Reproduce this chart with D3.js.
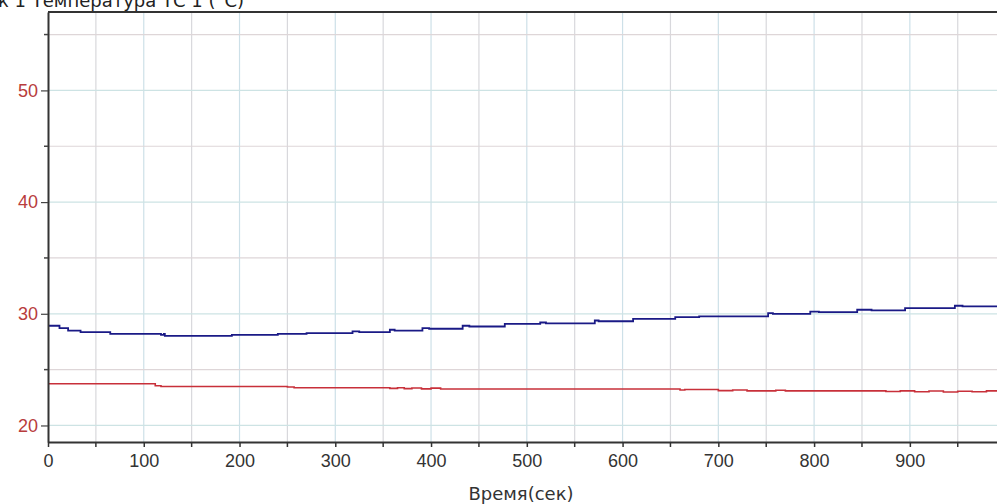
<!DOCTYPE html>
<html>
<head>
<meta charset="utf-8">
<script src="https://cdn.jsdelivr.net/npm/d3@7"></script>
<style>
  body { margin: 0; background: #fff; }
  svg { display: block; font-family: "DejaVu Sans", Verdana, sans-serif; }
</style>
</head>
<body>
<div id="chart"></div>
<script>
// chart size and margins
var W = 997, H = 504;
var margin = {top: 12, right: 0, bottom: 62, left: 48},
    width = W - margin.left - margin.right,
    height = H - margin.top - margin.bottom;

// blue channel: time (s) and temperature (step points)
var blueTime = [0, 12, 21, 34, 65, 118, 121, 122, 192, 240, 270, 318, 325, 357, 362, 391, 398, 433, 440, 477, 514, 520, 571, 575, 611, 655, 680, 690, 752, 757, 796, 805, 845, 860, 895, 947, 955, 991];
var blueTemp = [28.93, 28.72, 28.5, 28.36, 28.2, 28.12, 28.2, 28.03, 28.12, 28.2, 28.27, 28.42, 28.35, 28.57, 28.5, 28.72, 28.66, 28.93, 28.86, 29.1, 29.22, 29.15, 29.4, 29.33, 29.55, 29.7, 29.76, 29.76, 30.06, 30.0, 30.2, 30.14, 30.36, 30.3, 30.51, 30.72, 30.66, 30.72];

// red channel
var redTime = [0, 112, 118, 250, 257, 357, 365, 372, 380, 390, 400, 410, 417, 660, 665, 700, 715, 730, 760, 770, 875, 890, 905, 920, 935, 950, 965, 980, 991];
var redTemp = [23.73, 23.55, 23.49, 23.44, 23.38, 23.32, 23.38, 23.3, 23.36, 23.28, 23.34, 23.27, 23.26, 23.18, 23.22, 23.12, 23.17, 23.1, 23.15, 23.1, 23.04, 23.1, 23.02, 23.08, 23.0, 23.07, 23.02, 23.1, 23.1];

var xMajor = [0, 100, 200, 300, 400, 500, 600, 700, 800, 900];
var yMajor = [20, 30, 40, 50];

var svg = d3.select("#chart").append("svg")
    .attr("width", W)
    .attr("height", H);

// title, cut off at the very top like in the original window
svg.append("text")
    .attr("x", -2).attr("y", 7)
    .style("font-size", "18px")
    .style("fill", "#222")
    .text("к 1 Температура ТС 1 (°C)");

var g = svg.append("g")
    .attr("transform", "translate(" + margin.left + "," + margin.top + ")");

var x = d3.scaleLinear().domain([0, 991]).range([0, width]);
var y = d3.scaleLinear().domain([18.52, 57.02]).range([height, 0]);

// grid every 50 s / 5 degrees
var xGrid = d3.range(50, 991, 50);
var yGrid = d3.range(20, 57, 5);

g.selectAll(".vgrid").data(xGrid).enter().append("line")
    .attr("x1", d => x(d)).attr("x2", d => x(d))
    .attr("y1", 0).attr("y2", height)
    .attr("stroke", d => d % 100 == 0 ? "#cde0e8" : "#d8d8dc")
    .attr("stroke-width", 1.2);

g.selectAll(".hgrid").data(yGrid).enter().append("line")
    .attr("x1", 0).attr("x2", width)
    .attr("y1", d => y(d)).attr("y2", d => y(d))
    .attr("stroke", d => d % 10 == 0 ? "#cde3e4" : "#ded6d8")
    .attr("stroke-width", 1.2);

// data lines
var lineB = d3.line()
    .x((d, i) => x(blueTime[i]))
    .y(d => y(d))
    .curve(d3.curveStepAfter);

g.append("path")
    .attr("d", lineB(blueTemp))
    .attr("fill", "none")
    .attr("stroke", "#1a1a86")
    .attr("stroke-width", 1.8);

var lineR = d3.line()
    .x((d, i) => x(redTime[i]))
    .y(d => y(d))
    .curve(d3.curveStepAfter);

g.append("path")
    .attr("d", lineR(redTemp))
    .attr("fill", "none")
    .attr("stroke", "#c8303a")
    .attr("stroke-width", 1.6);

// x axis
var xAxis = g.append("g")
    .attr("transform", "translate(0," + height + ")")
    .call(d3.axisBottom(x).tickValues(xMajor).tickSize(5).tickPadding(7).tickSizeOuter(0));
xAxis.select(".domain").attr("stroke", "#333").attr("stroke-width", 2);
xAxis.selectAll(".tick line").attr("stroke", "#333").attr("stroke-width", 1.5);
xAxis.selectAll(".tick text").style("font-size", "18px").style("fill", "#333");
// minor x ticks
g.selectAll(".xminor").data(d3.range(50, 991, 100)).enter().append("line")
    .attr("x1", d => x(d)).attr("x2", d => x(d))
    .attr("y1", height).attr("y2", height + 5)
    .attr("stroke", "#333").attr("stroke-width", 1.5);

// y axis
var yAxis = g.append("g")
    .call(d3.axisLeft(y).tickValues(yMajor).tickSize(7).tickPadding(3).tickSizeOuter(0));
yAxis.select(".domain").attr("stroke", "#333").attr("stroke-width", 2);
yAxis.selectAll(".tick line").attr("stroke", "#444").attr("stroke-width", 1.2);
yAxis.selectAll(".tick text").style("font-size", "18px").style("fill", "#b83c3c");
g.selectAll(".yminor").data([25, 35, 45, 55]).enter().append("line")
    .attr("x1", -4).attr("x2", 0)
    .attr("y1", d => y(d)).attr("y2", d => y(d))
    .attr("stroke", "#444").attr("stroke-width", 1.5);

// top border
g.append("line")
    .attr("x1", 0).attr("x2", width)
    .attr("y1", 0).attr("y2", 0)
    .attr("stroke", "#333").attr("stroke-width", 2);

// x axis title
svg.append("text")
    .attr("x", 521).attr("y", 500)
    .style("text-anchor", "middle")
    .style("font-size", "18px")
    .style("fill", "#333")
    .text("Время(сек)");
</script>
</body>
</html>
